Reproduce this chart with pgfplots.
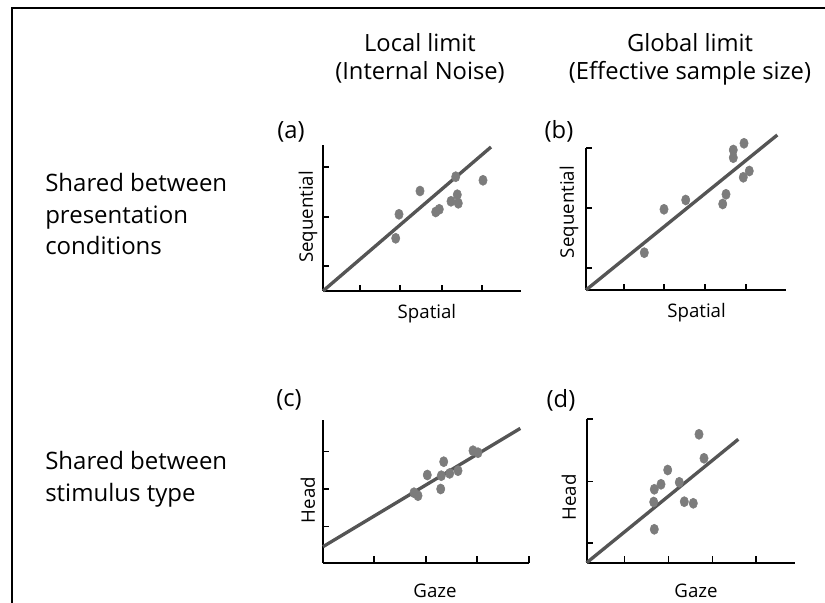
\documentclass[border=0pt]{standalone}
\usepackage{pgfplots}
\pgfplotsset{compat=1.18}
\usepackage{fontspec}
\setmainfont{Open Sans}
\definecolor{dotgray}{HTML}{7C7C7C}
\definecolor{linegray}{HTML}{555555}
\pgfplotsset{
  panel/.style={
    scale only axis, anchor=south west, clip=false,
    enlargelimits=false,
    axis lines=left,
    axis line style={-, line width=1.5pt, black},
    tick align=inside,
    major tick length=4.8pt,
    tick style={black, line width=1.2pt},
    xticklabels={}, yticklabels={},
    label style={font=\fontsize{14}{16}\selectfont},
  },
  fit/.style={linegray, line width=2.5pt, no marks},
  dots/.style={only marks, mark=*, mark size=3.8pt, dotgray,
    mark options={xscale=0.82, draw=dotgray, fill=dotgray}},
}
\begin{document}
\begin{tikzpicture}
\useasboundingbox (0,0) rectangle (618.75pt,452.25pt);
\draw[line width=1.5pt] (9pt,0pt) -- (9pt,446.25pt) -- (618.75pt,446.25pt);

% headers
\node[anchor=base, inner sep=0pt, font=\fontsize{17.8}{20}\selectfont] at (315pt,413.475pt) {Local limit};
\node[anchor=base, inner sep=0pt, font=\fontsize{17.8}{20}\selectfont] at (315pt,392.25pt) {(Internal Noise)};
\node[anchor=base, inner sep=0pt, font=\fontsize{17.8}{20}\selectfont] at (517.5pt,413.475pt) {Global limit};
\node[anchor=base, inner sep=0pt, font=\fontsize{17.8}{20}\selectfont] at (517.5pt,392.25pt) {(Effective sample size)};

% row labels
\node[anchor=base west, inner sep=0pt, font=\fontsize{18}{20}\selectfont] at (33.75pt,308.475pt) {Shared between};
\node[anchor=base west, inner sep=0pt, font=\fontsize{18}{20}\selectfont] at (33.75pt,284.775pt) {presentation};
\node[anchor=base west, inner sep=0pt, font=\fontsize{18}{20}\selectfont] at (33.75pt,261pt) {conditions};
\node[anchor=base west, inner sep=0pt, font=\fontsize{18}{20}\selectfont] at (33.75pt,99.75pt) {Shared between};
\node[anchor=base west, inner sep=0pt, font=\fontsize{18}{20}\selectfont] at (33.75pt,75.975pt) {stimulus type};

% panel letters
\node[inner sep=0pt, font=\fontsize{17.8}{20}\selectfont] at (218.25pt,353.25pt) {(a)};
\node[inner sep=0pt, font=\fontsize{17.8}{20}\selectfont] at (419.25pt,354pt) {(b)};
\node[inner sep=0pt, font=\fontsize{17.8}{20}\selectfont] at (216.75pt,152.25pt) {(c)};
\node[inner sep=0pt, font=\fontsize{17.8}{20}\selectfont] at (420.75pt,152.25pt) {(d)};

% (a)
\begin{axis}[panel, at={(242.25pt,234pt)}, width=148.5pt, height=109.5pt,
  xmin=0, xmax=198, ymin=0, ymax=146,
  xtick={37,77,119,159}, ytick={25,74,124},
  xlabel={Spatial}, ylabel={Sequential},
  xlabel style={at={(axis description cs:0.525,-0.158)}, anchor=center},
  ylabel style={at={(axis description cs:-0.076,0.507)}, anchor=center}]
\addplot[fit] coordinates {(0,0) (168,144)};
\addplot[dots] coordinates {(72.7,52.7) (76,76.7) (97,100) (112.7,79) (116.3,81.7)
  (128,89.7) (132.7,114.3) (134.3,96.3) (135.3,87.7) (160,110.7)};
\end{axis}

% (b)
\begin{axis}[panel, at={(439.5pt,234.75pt)}, width=150pt, height=106.5pt,
  xmin=0, xmax=200, ymin=0, ymax=142,
  xtick={38,78,119,160}, ytick={22,82,142},
  xlabel={Spatial}, ylabel={Sequential},
  xlabel style={at={(axis description cs:0.553,-0.158)}, anchor=center},
  ylabel style={at={(axis description cs:-0.085,0.549)}, anchor=center}]
\addplot[fit] coordinates {(0,0) (191.3,155)};
\addplot[dots] coordinates {(58.3,37.3) (78,80.7) (99.7,90) (136.7,86) (140,95.7)
  (147.3,140) (147.3,132.3) (158,146.7) (157.3,112.7) (163.3,119)};
\end{axis}

% (c)
\begin{axis}[panel, at={(242.25pt,30.225pt)}, width=154.5pt, height=107.025pt,
  xmin=0, xmax=206, ymin=0, ymax=142.7,
  xtick={51,103,154,206}, ytick={36,73.4,111},
  xlabel={Gaze}, ylabel={Head},
  xlabel style={at={(axis description cs:0.544,-0.198)}, anchor=center},
  ylabel style={at={(axis description cs:-0.073,0.439)}, anchor=center}]
\addplot[fit] coordinates {(0,16) (197.3,134.3)};
\addplot[dots] coordinates {(91,70) (95,67) (104.3,87.7) (117.7,73.7) (118.3,87)
  (120.7,101) (126.7,89.3) (135,92) (150,112) (155,110)};
\end{axis}

% (d)
\begin{axis}[panel, at={(440.025pt,30.225pt)}, width=156.225pt, height=107.55pt,
  xmin=0, xmax=208.3, ymin=0, ymax=143.4,
  xtick={37.6,81.6,125.6,169.3}, ytick={19.4,81,143.4},
  xlabel={Gaze}, ylabel={Head},
  xlabel style={at={(axis description cs:0.525,-0.198)}, anchor=center},
  ylabel style={at={(axis description cs:-0.085,0.455)}, anchor=center}]
\addplot[fit] coordinates {(0,0) (151.6,123.4)};
\addplot[dots] coordinates {(112.3,128.4) (117.3,104.4) (81,92.7) (74.3,78.4) (67.6,73.4)
  (92.6,80.4) (67,60.7) (97.6,61) (106.6,59.4) (67.6,33.4)};
\end{axis}
\end{tikzpicture}
\end{document}
